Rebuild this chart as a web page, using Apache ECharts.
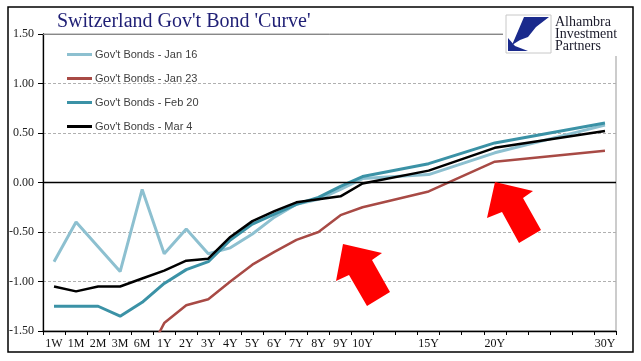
<!DOCTYPE html>
<html><head><meta charset="utf-8">
<script src="https://cdn.jsdelivr.net/npm/echarts@6/dist/echarts.min.js"></script>
<style>html,body{margin:0;padding:0;background:#fff}#c{width:641px;height:361px}</style>
</head><body><div id="c"></div>
<script>
const categories = ['1W','1M','2M','3M','6M','1Y','2Y','3Y','4Y','5Y','6Y','7Y','8Y','9Y','10Y','','','15Y','','','20Y','','','','','30Y'];
const yTicks = [-1.5,-1.0,-0.5,0,0.5,1.0,1.5];
const jan16 = [-0.80,-0.40,-0.65,-0.90,-0.07,-0.72,-0.47,-0.72,-0.66,-0.52,-0.35,-0.22,-0.17,-0.07,0.04,null,null,0.08,null,null,0.30,null,null,null,null,0.58];
const jan23 = [null,null,null,null,-1.85,-1.42,-1.24,-1.18,-1.00,-0.83,-0.70,-0.58,-0.50,-0.33,-0.25,null,null,-0.09,null,null,0.21,null,null,null,null,0.32];
const feb20 = [-1.25,-1.25,-1.25,-1.35,-1.21,-1.02,-0.88,-0.80,-0.58,-0.42,-0.32,-0.22,-0.15,-0.04,0.06,null,null,0.19,null,null,0.40,null,null,null,null,0.60];
const mar4  = [-1.05,-1.10,-1.05,-1.05,-0.97,-0.89,-0.79,-0.77,-0.55,-0.39,-0.29,-0.20,-0.17,-0.14,-0.01,null,null,0.12,null,null,0.35,null,null,null,null,0.52];
const seriesNames = ["Gov't Bonds - Jan 16","Gov't Bonds - Jan 23","Gov't Bonds - Feb 20","Gov't Bonds - Mar 4"];

const chart = echarts.init(document.getElementById('c'), null, {renderer:'canvas'});
function line(name, data, color, width, z){
  return {name, type:'line', data, connectNulls:true, showSymbol:false, symbol:'none', clip:true, z,
    lineStyle:{color, width}, itemStyle:{color}, emphasis:{disabled:true}, animation:false};
}
const s = [
  line(seriesNames[0], jan16, '#8DC0D0', 3, 2),
  line(seriesNames[1], jan23, '#A84A45', 2.5, 3),
  line(seriesNames[2], feb20, '#3B92A6', 3, 4),
  line(seriesNames[3], mar4, '#000000', 2.5, 5)
];
s[0].markLine = {silent:true, symbol:'none', label:{show:false}, animation:false,
  data:[{yAxis:0, lineStyle:{color:'#000', width:1.3, type:'solid'}},
        {yAxis:1.5, lineStyle:{color:'#888', width:1, type:'solid'}}]};

chart.setOption({
  animation:false,
  backgroundColor:'#fff',
  title:{text:"Switzerland Gov't Bond 'Curve'", left:52, top:7,
    textStyle:{fontFamily:'Liberation Serif', fontSize:20, fontWeight:'normal', color:'#1F1F75'}},
  legend:{orient:'vertical', left:67, top:49, padding:0, itemWidth:25, itemHeight:3, itemGap:13, icon:'rect',
    data:seriesNames, textStyle:{fontFamily:'Liberation Sans', fontSize:11, color:'#404040', padding:[0,0,0,-2]}},
  grid:{left:43, right:25, top:34, bottom:30, show:true, borderColor:'#999', borderWidth:1},
  xAxis:{type:'category', data:categories, boundaryGap:true,
    axisLine:{onZero:false, lineStyle:{color:'#000', width:1.3}},
    axisTick:{show:true, alignWithLabel:false, interval:0, length:4, inside:false, lineStyle:{color:'#000'}},
    axisLabel:{interval:0, fontFamily:'Liberation Serif', fontSize:12, color:'#111', margin:7},
    splitLine:{show:false}},
  yAxis:{type:'value', min:yTicks[0], max:yTicks[yTicks.length-1], interval:0.5,
    axisLine:{show:true, lineStyle:{color:'#000', width:1.3}},
    axisTick:{show:true, length:5, lineStyle:{color:'#000'}},
    axisLabel:{fontFamily:'Liberation Serif', fontSize:12, color:'#222', margin:9,
      formatter:v=>v.toFixed(2)},
    splitLine:{show:true, lineStyle:{color:'#B0B0B0', type:[3,2], width:1}}},
  series:s,
  graphic:[
    {type:'rect', shape:{x:8, y:7, width:625, height:345}, style:{fill:null, stroke:'#000', lineWidth:1.5}, z:100},
    {type:'polygon', shape:{points:[[343,244],[382,253],[372,260],[390,292],[367,306],[349,275],[336,281]]}, style:{fill:'#FF0000'}, z:50},
    {type:'polygon', shape:{points:[[495,182],[533,191],[523,198],[541,230],[519,243],[502,212],[487,218]]}, style:{fill:'#FF0000'}, z:50},
    {type:'rect', shape:{x:503, y:12, width:128, height:44}, style:{fill:'#fff'}, z:60},
    {type:'rect', shape:{x:506, y:15, width:45, height:38}, style:{fill:'#fff', stroke:'#C8C8C8', lineWidth:1}, z:61},
    {type:'polygon', shape:{points:[[524,17],[549,17],[536,27],[528,37],[520,40],[512,45]]}, style:{fill:'#1A2A8C'}, z:62},
    {type:'polygon', shape:{points:[[508,38],[515,46],[528,51],[508,51]]}, style:{fill:'#1A2A8C'}, z:62},
    {type:'text', left:555, top:15, style:{text:'Alhambra\nInvestment\nPartners', font:'14px "Liberation Serif"', fill:'#1a1a2a', lineHeight:12}, z:62}
  ]
});
</script></body></html>
